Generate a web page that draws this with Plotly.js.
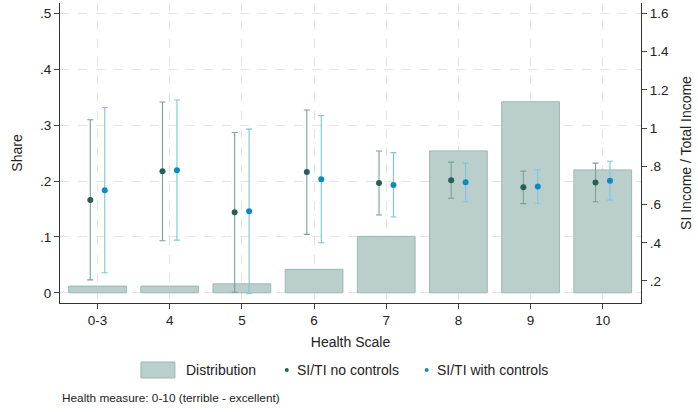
<!DOCTYPE html>
<html>
<head>
<meta charset="utf-8">
<script src="https://cdn.plot.ly/plotly-3.0.1.min.js"></script>
<style>
  html, body { margin: 0; padding: 0; background: #fff; }
  #chart { width: 698px; height: 412px; }
</style>
</head>
<body>
<div id="chart"></div>
<script>
// Health scale categories
const categories = ['0-3', '4', '5', '6', '7', '8', '9', '10'];

// Share of respondents in each health category (left axis)
const distribution = [0.012, 0.012, 0.016, 0.042, 0.101, 0.254, 0.342, 0.220];

// SI income / total income, no controls: estimate and CI bounds (right axis)
const noCtrlEst   = [0.624, 0.775, 0.560, 0.770, 0.713, 0.727, 0.691, 0.715];
const noCtrlLow   = [0.206, 0.411, 0.141, 0.444, 0.545, 0.633, 0.605, 0.615];
const noCtrlHigh  = [1.044, 1.137, 0.977, 1.095, 0.880, 0.822, 0.775, 0.817];

// SI income / total income, with controls: estimate and CI bounds (right axis)
const withCtrlEst  = [0.675, 0.780, 0.565, 0.733, 0.703, 0.717, 0.694, 0.725];
const withCtrlLow  = [0.243, 0.414, 0.133, 0.400, 0.535, 0.615, 0.607, 0.623];
const withCtrlHigh = [1.108, 1.147, 0.995, 1.066, 0.872, 0.817, 0.782, 0.827];

// Axis ticks
const leftTickVals = [0, 0.1, 0.2, 0.3, 0.4, 0.5];
const leftTickText = ['0', '.1', '.2', '.3', '.4', '.5'];
const rightTickVals = [0.2, 0.4, 0.6, 0.8, 1.0, 1.2, 1.4, 1.6];
const rightTickText = ['.2', '.4', '.6', '.8', '1', '1.2', '1.4', '1.6'];

const FONT = 'Liberation Sans, Arial, sans-serif';
const idx = categories.map((_, i) => i);
const OFFSET = 0.1;

const barTrace = {
  type: 'bar',
  x: idx,
  y: distribution,
  width: 0.8,
  marker: { color: 'rgb(186,207,203)', line: { color: 'rgb(152,186,179)', width: 1 } },
  yaxis: 'y',
  name: 'Distribution',
  showlegend: false,
  hoverinfo: 'skip'
};

function ciTrace(est, low, high, xs, dotColor, barColor, name) {
  return {
    type: 'scatter',
    mode: 'markers',
    x: xs,
    y: est,
    yaxis: 'y2',
    name: name,
    showlegend: false,
    marker: { color: dotColor, size: 6 },
    error_y: {
      type: 'data',
      symmetric: false,
      array: high.map((h, i) => h - est[i]),
      arrayminus: est.map((e, i) => e - low[i]),
      color: barColor,
      thickness: 1.1,
      width: 3
    }
  };
}

const noCtrl = ciTrace(noCtrlEst, noCtrlLow, noCtrlHigh, idx.map(i => i - OFFSET),
  'rgb(38,96,86)', 'rgb(122,160,152)', 'SI/TI no controls');
const withCtrl = ciTrace(withCtrlEst, withCtrlLow, withCtrlHigh, idx.map(i => i + OFFSET),
  'rgb(14,138,194)', 'rgb(122,198,228)', 'SI/TI with controls');

// Legend drawn in paper coordinates below the plot
const W = 698, H = 412;
const ml = 60, mr = 56.5, mt = 3, mb = 109;
const pw = W - ml - mr, ph = H - mt - mb;
const px = x => (x - ml) / pw;
const py = y => (H - mb - y) / ph;

const legendY = 370;
const shapes = [
  { type: 'rect', xref: 'paper', yref: 'paper',
    x0: px(141), x1: px(175), y0: py(378), y1: py(362),
    fillcolor: 'rgb(186,207,203)', line: { color: 'rgb(152,186,179)', width: 1 } },
  { type: 'circle', xref: 'paper', yref: 'paper',
    x0: px(285), x1: px(289), y0: py(legendY + 2), y1: py(legendY - 2),
    fillcolor: 'rgb(38,96,86)', line: { width: 0 } },
  { type: 'circle', xref: 'paper', yref: 'paper',
    x0: px(425), x1: px(429), y0: py(legendY + 2), y1: py(legendY - 2),
    fillcolor: 'rgb(14,138,194)', line: { width: 0 } }
];

const legendFont = { family: FONT, size: 14, color: '#222' };
const annotations = [
  { xref: 'paper', yref: 'paper', x: px(184), y: py(legendY), xanchor: 'left', yanchor: 'middle',
    text: 'Distribution', showarrow: false, font: legendFont },
  { xref: 'paper', yref: 'paper', x: px(295), y: py(legendY), xanchor: 'left', yanchor: 'middle',
    text: 'SI/TI no controls', showarrow: false, font: legendFont },
  { xref: 'paper', yref: 'paper', x: px(435), y: py(legendY), xanchor: 'left', yanchor: 'middle',
    text: 'SI/TI with controls', showarrow: false, font: legendFont },
  { xref: 'paper', yref: 'paper', x: px(60), y: py(398), xanchor: 'left', yanchor: 'middle',
    text: 'Health measure: 0-10 (terrible - excellent)', showarrow: false,
    font: { family: FONT, size: 11.8, color: '#222' } }
];

const gridStyle = { gridcolor: 'rgb(228,228,228)', griddash: 'dash', gridwidth: 1 };

const layout = {
  width: W, height: H,
  margin: { l: ml, r: mr, t: mt, b: mb, pad: 0 },
  paper_bgcolor: '#fff',
  plot_bgcolor: '#fff',
  font: { family: FONT, size: 13, color: '#222' },
  showlegend: false,
  xaxis: Object.assign({
    range: [-0.52, 7.53],
    tickvals: idx,
    ticktext: categories,
    ticks: 'outside', ticklen: 5, tickcolor: '#444',
    showline: true, linecolor: '#333', linewidth: 1,
    zeroline: false,
    tickfont: { family: FONT, size: 13.5, color: '#222' },
    title: { text: 'Health Scale', font: { family: FONT, size: 14, color: '#222' }, standoff: 9 }
  }, gridStyle),
  yaxis: Object.assign({
    range: [-0.01826, 0.5188],
    tickvals: leftTickVals,
    ticktext: leftTickText,
    ticks: 'outside', ticklen: 5, tickcolor: '#444',
    showline: true, linecolor: '#333', linewidth: 1,
    zeroline: false,
    tickfont: { family: FONT, size: 13.5, color: '#222' },
    title: { text: 'Share', font: { family: FONT, size: 14, color: '#222' }, standoff: 14 }
  }, gridStyle),
  yaxis2: {
    overlaying: 'y',
    side: 'right',
    range: [0.0848, 1.655],
    tickvals: rightTickVals,
    ticktext: rightTickText,
    ticks: 'outside', ticklen: 5, tickcolor: '#444',
    showline: true, linecolor: '#333', linewidth: 1,
    showgrid: false,
    zeroline: false,
    tickfont: { family: FONT, size: 13.5, color: '#222' },
    title: { text: 'SI Income / Total Income', font: { family: FONT, size: 14, color: '#222' }, standoff: 13 }
  },
  shapes: shapes,
  annotations: annotations
};

Plotly.newPlot('chart', [barTrace, noCtrl, withCtrl], layout, { staticPlot: true, displayModeBar: false });
</script>
</body>
</html>
